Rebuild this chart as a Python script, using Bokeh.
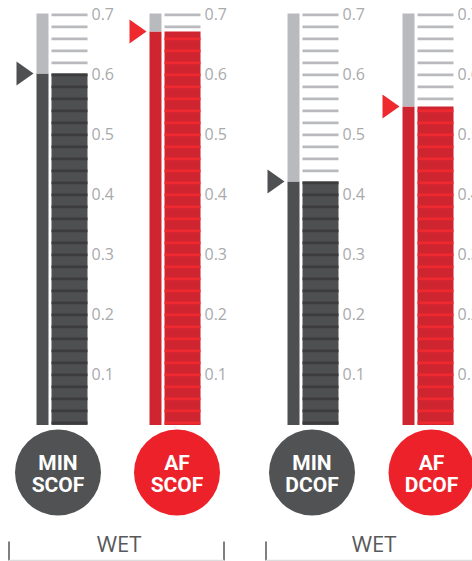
import numpy as np
from bokeh.plotting import figure
from bokeh.models import Range1d, ColumnDataSource
from bokeh.core.properties import value
from bokeh.embed import file_html
from bokeh.resources import INLINE

# ---- data ----
names_top = ["MIN", "AF", "MIN", "AF"]
names_bottom = ["SCOF", "SCOF", "DCOF", "DCOF"]
cof_values = [0.60, 0.67, 0.42, 0.545]
kinds = ["min", "af", "min", "af"]
tick_values = [0.1, 0.2, 0.3, 0.4, 0.5, 0.6, 0.7]
tick_labels = ["0.1", "0.2", "0.3", "0.4", "0.5", "0.6", "0.7"]
group_labels = ["WET", "WET"]
scale_max = 0.7
scale_min = 0.014
step = 0.02

# ---- layout (screen px along x) ----
bar_x = [36, 149, 287, 402]
circle_x = [57.5, 176.5, 311.5, 431]
group_x = [118.5, 373.5]

BASE = {"min": "#4e4f51", "af": "#cf2530"}
STRIPE = {"min": "#3c3c3e", "af": "#ee2a30"}
CIRCLE = {"min": "#515254", "af": "#ec2129"}
TRI = {"min": "#4f5052", "af": "#ee2a2f"}
EMPTY = "#b9babd"

px = 1 / 600.0  # value units per pixel
p = figure(width=472, height=561, output_backend="svg", toolbar_location=None,
           x_range=Range1d(0, 472), y_range=Range1d((433 - 561) * px, 433 * px),
           min_border=0, min_border_left=0, min_border_right=0,
           min_border_top=0, min_border_bottom=0)
p.axis.visible = False
p.grid.visible = False
p.outline_line_color = None
p.background_fill_color = "white"

lw = 2.7 * px

grid = np.round(np.arange(step, scale_max + 1e-9, step), 4)

for i in range(4):
    v = cof_values[i]
    k = kinds[i]
    bx = bar_x[i]
    # narrow bar
    p.quad(left=[bx], right=[bx + 12], bottom=[scale_min], top=[v],
           fill_color=BASE[k], line_color=None)
    p.quad(left=[bx], right=[bx + 12], bottom=[v], top=[scale_max],
           fill_color=EMPTY, line_color=None)
    # ladder
    p.quad(left=[bx + 15], right=[bx + 51], bottom=[scale_min], top=[v],
           fill_color=BASE[k], line_color=None)
    filled = grid[grid <= v + 1e-9]
    empty = grid[grid > v + 1e-9]
    p.quad(left=bx + 15, right=bx + 51, bottom=filled - lw, top=filled,
           fill_color=STRIPE[k], line_color=None)
    p.quad(left=bx + 15, right=bx + 51, bottom=empty - lw, top=empty,
           fill_color=EMPTY, line_color=None)
    # tick labels
    p.text(x=[bx + 55] * len(tick_values), y=tick_values, text=tick_labels,
           text_font=value("Open Sans"), text_font_size="16px",
           text_color="#a9aaac", text_baseline="middle", text_align="left")
    # marker triangle
    p.patch(x=[bx - 20, bx - 20, bx - 3], y=[v + 12 * px, v - 12 * px, v],
            fill_color=TRI[k], line_color=None)

# circles with labels
circ = ColumnDataSource(dict(x=circle_x, y=[-39 * px] * 4,
                             y1=[-29 * px] * 4, y2=[-51 * px] * 4,
                             c=[CIRCLE[k] for k in kinds],
                             t1=names_top, t2=names_bottom))
p.scatter(x="x", y="y", size=86, marker="circle", fill_color="c",
          line_color=None, source=circ)
p.text(x="x", y="y1", text="t1", source=circ,
       text_font=value("Roboto"), text_font_style="bold", text_font_size="21px",
       text_color="white", text_align="center", text_baseline="middle")
p.text(x="x", y="y2", text="t2", source=circ,
       text_font=value("Roboto"), text_font_style="bold", text_font_size="21px",
       text_color="white", text_align="center", text_baseline="middle")

# group labels and brackets
p.text(x=group_x, y=[-109 * px] * 2, text=group_labels,
       text_font=value("Open Sans"), text_font_size="22px",
       text_color="#58595b", text_align="center", text_baseline="middle")
p.segment(x0=[8.5, 223.5, 265.5], x1=[8.5, 223.5, 265.5],
          y0=[-108 * px] * 3, y1=[-127 * px] * 3,
          line_color="#555555", line_width=1.5)
p.segment(x0=[8.5, 265.5], x1=[223.5, 472], y0=[-127 * px] * 2,
          y1=[-127 * px] * 2, line_color="#dddddd", line_width=1.5)

open("out.html", "w").write(file_html(p, INLINE))
